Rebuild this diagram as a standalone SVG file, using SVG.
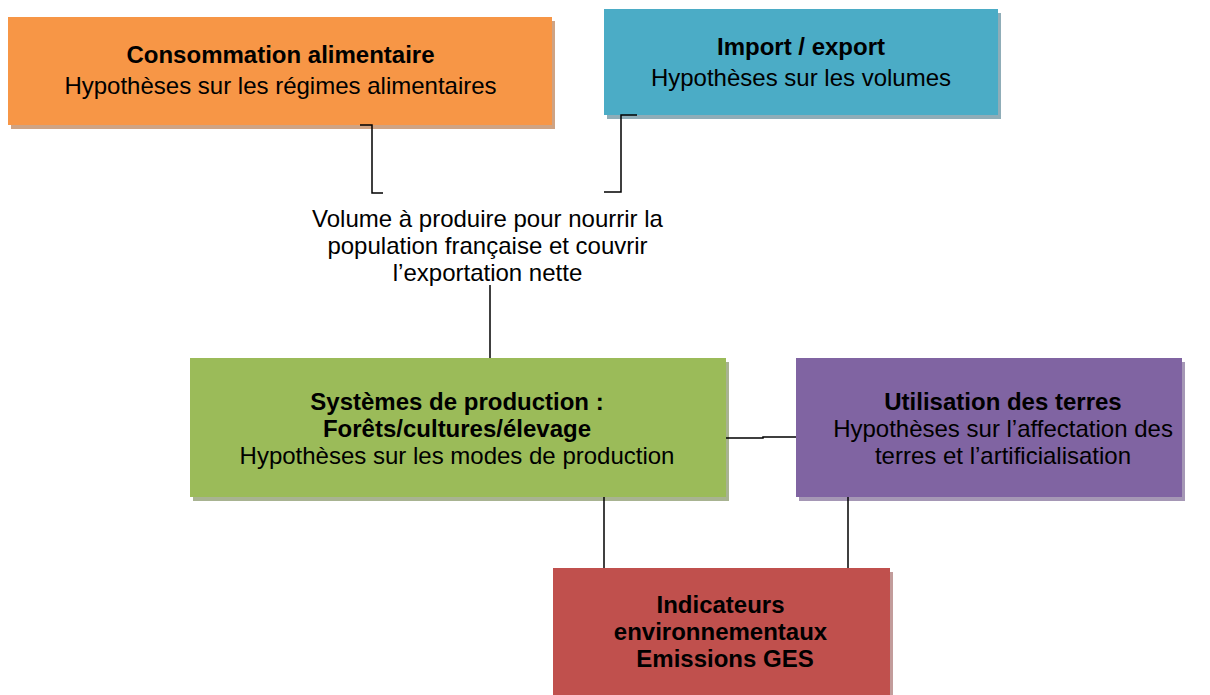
<svg xmlns="http://www.w3.org/2000/svg" width="1210" height="695" viewBox="0 0 1210 695">
<style>
text{font-family:"Liberation Sans",Arial,sans-serif;font-size:24px;fill:#000;text-anchor:middle}
.b{font-weight:bold}
.c{fill:none;stroke:#000;stroke-width:1.5}
</style>
<rect width="1210" height="695" fill="#fff"/>
<g id="consommation">
<rect x="11" y="21" width="544" height="108" fill="#cfa383"/>
<rect x="8" y="17" width="544" height="108" fill="#F79646"/>
<text x="280.5" y="63" class="b">Consommation alimentaire</text>
<text x="280.5" y="94">Hypothèses sur les régimes alimentaires</text>
</g>
<g id="import">
<rect x="607" y="13" width="394" height="106" fill="#8fadb8"/>
<rect x="604" y="9" width="394" height="106" fill="#4BACC6"/>
<text x="801" y="55" class="b">Import / export</text>
<text x="801" y="86">Hypothèses sur les volumes</text>
</g>
<g id="volume">
<text x="487.5" y="227">Volume à produire pour nourrir la</text>
<text x="487.5" y="254">population française et couvrir</text>
<text x="487.5" y="281">l’exportation nette</text>
</g>
<g id="systemes">
<rect x="193" y="362" width="536" height="139" fill="#a8b391"/>
<rect x="190" y="358" width="536" height="139" fill="#9BBB59"/>
<text x="457" y="410" class="b">Systèmes de production :</text>
<text x="457" y="437" class="b">Forêts/cultures/élevage</text>
<text x="457" y="464">Hypothèses sur les modes de production</text>
</g>
<g id="utilisation">
<rect x="799" y="362" width="386" height="139" fill="#a597b5"/>
<rect x="796" y="358" width="386" height="139" fill="#8064A2"/>
<text x="1003" y="410" class="b">Utilisation des terres</text>
<text x="1003" y="437">Hypothèses sur l’affectation des</text>
<text x="1003" y="464">terres et l’artificialisation</text>
</g>
<g id="indicateurs">
<rect x="556" y="572" width="337" height="130" fill="#c29c9b"/>
<rect x="553" y="568" width="337" height="130" fill="#C0504D"/>
<text x="720.5" y="613" class="b">Indicateurs</text>
<text x="720.5" y="640" class="b">environnementaux</text>
<text x="725" y="667" class="b">Emissions GES</text>
</g>
<g id="connectors">
<polyline class="c" points="360,125 372,125 372,193 383,193"/>
<polyline class="c" points="637,115 621,115 621,192 604,192"/>
<line class="c" x1="490" y1="285" x2="490" y2="358"/>
<polyline class="c" points="726,438 763,438 763,437 796,437"/>
<line class="c" x1="604" y1="497" x2="604" y2="568"/>
<line class="c" x1="848" y1="497" x2="848" y2="568"/>
</g>
</svg>
